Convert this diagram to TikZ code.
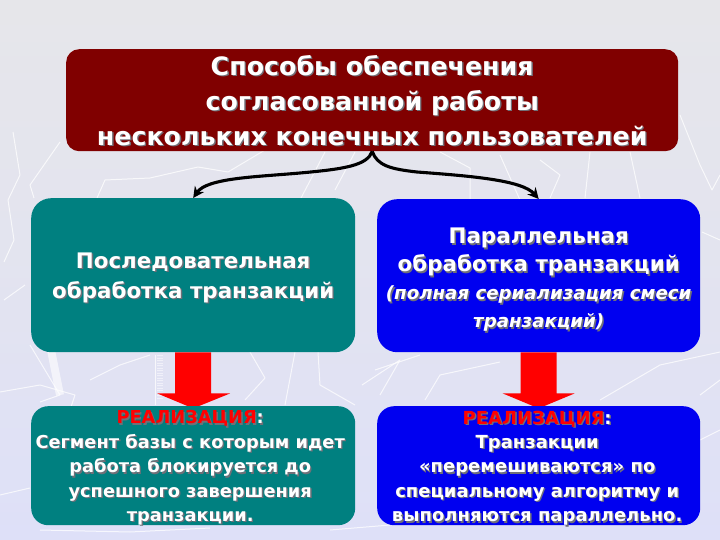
\documentclass[tikz,border=0pt]{standalone}
\usepackage{fontspec}
\setmainfont{DejaVu Sans}
\usetikzlibrary{calc,arrows.meta}
\definecolor{bgtop}{HTML}{E6E6EA}
\definecolor{bgbot}{HTML}{DEE0F8}
\definecolor{maroonbox}{HTML}{800000}
\definecolor{tealbox}{HTML}{008080}
\definecolor{bluebox}{HTML}{0000F0}
\definecolor{txtshadow}{HTML}{707078}
\newcommand\shd[2][white]{\leavevmode\rlap{\kern1.4pt\raisebox{-1.4pt}{\textcolor{txtshadow}{#2}}}\textcolor{#1}{#2}}
\newcommand\itl{\fontsize{18.2}{24}\selectfont\itshape}
\tikzset{
  x=1pt,y=-1pt,
  box/.style={rounded corners=#1,inner sep=0pt,anchor=north west},
  lbl/.style={inner sep=0pt,align=center,text=white},
  squig/.style={draw=white,line width=1pt,opacity=.75,line join=round},
  curvearrow/.style={draw=black,line width=3.1pt,-{Stealth[length=11pt,width=11pt]}},
  bigarrow/.style={fill=red,draw=none}
}
\begin{document}
\begin{tikzpicture}
\useasboundingbox (0,0) rectangle (720,540);
\shade[top color=bgtop,bottom color=bgbot,middle color=bgtop!60!bgbot] (0,0) rectangle (720,540);
% background squiggles
\draw[squig] (13,132) -- (20,175) -- (8,200) -- (14,240) -- (4,262);
\draw[squig] (60,142) -- (30,185) -- (34,198);
\draw[squig] (97,198) -- (105,180) -- (150,178) -- (198,167) -- (228,172) -- (265,150);
\draw[squig] (300,200) -- (325,152);
\draw[squig] (355,152) -- (335,190);
\draw[squig] (440,152) -- (470,168) -- (470,200);
\draw[squig] (500,155) -- (520,200);
\draw[squig] (540,160) -- (560,175) -- (550,198);
\draw[squig] (590,152) -- (585,198);
\draw[squig] (630,152) -- (640,198);
\draw[squig] (680,115) -- (700,165) -- (712,190) -- (720,175);
\draw[squig] (720,240) -- (702,232);
\draw[squig] (4,300) -- (25,285);
\draw[squig] (0,392) -- (40,385) -- (75,395) -- (60,440);
\draw[squig] (30,345) -- (60,395) -- (40,402);
\draw[squig] (90,380) -- (120,365) -- (150,355);
\draw[squig] (155,355) -- (155,405);
\draw[squig] (250,352) -- (265,378) -- (245,400);
\draw[squig] (295,352) -- (285,405);
\draw[squig] (318,352) -- (320,385) -- (355,405);
\draw[squig] (0,495) -- (30,488);
\draw[squig] (40,530) -- (130,532) -- (210,528);
\draw[squig] (375,370) -- (420,355);
\draw[squig] (362,385) -- (400,360) -- (380,395);
\draw[squig] (425,400) -- (440,375) -- (500,362);
\draw[squig] (600,400) -- (660,365) -- (720,352);
\draw[squig] (700,395) -- (720,380);
\draw[squig] (700,440) -- (720,430);
\draw[squig] (330,530) -- (390,525);
\draw[white,opacity=.6,line width=8pt] (50,345) -- (60,395);
\draw[white,opacity=.5,line width=6pt,dash pattern=on 1pt off 1.5pt] (160,355) -- (160,400);
% boxes
\node[box=13pt,fill=maroonbox,minimum width=612pt,minimum height=102pt] (top) at (66,49) {};
\node[box=20pt,fill=tealbox,minimum width=324pt,minimum height=154pt] (seq) at (31,198) {};
\node[box=20pt,fill=bluebox,minimum width=323pt,minimum height=153pt] (par) at (377,199) {};
% arrows between rows
\path[bigarrow] ($(seq.south)+(-18,0)$) -- ($(seq.south)+(18,0)$) -- ($(seq.south)+(18,41)$) -- ($(seq.south)+(37,41)$) -- ($(seq.south)+(0,56)$) -- ($(seq.south)+(-36,41)$) -- ($(seq.south)+(-18,41)$) -- cycle;
\path[bigarrow] ($(par.south)+(-18,0)$) -- ($(par.south)+(18,0)$) -- ($(par.south)+(18,41)$) -- ($(par.south)+(36,41)$) -- ($(par.south)+(0,56)$) -- ($(par.south)+(-36,41)$) -- ($(par.south)+(-18,41)$) -- cycle;
\node[box=17pt,fill=tealbox,minimum width=324pt,minimum height=119pt] (seqimp) at (31,406) {};
\node[box=17pt,fill=bluebox,minimum width=323pt,minimum height=119pt] (parimp) at (377,406) {};
% texts
\node[lbl,font={\bfseries\fontsize{25.3}{35}\selectfont}] (toptxt) at ($(top.center)+(0,1)$)
  {\shd{Способы обеспечения}\\\shd{согласованной работы}\\\shd{нескольких конечных пользователей}};
\node[lbl,font={\bfseries\fontsize{21.4}{30}\selectfont}] (seqtxt) at ($(seq.center)+(0,3)$)
  {\shd{Последовательная}\\\shd{обработка транзакций}};
\node[lbl,font={\bfseries\fontsize{21.4}{28}\selectfont}] (partxt) at ($(par.center)+(0,5)$)
  {\shd{Параллельная}\\\shd{обработка транзакций}\\
   {\itl\shd{(полная сериализация смеси}}\\{\itl\shd{транзакций)}}};
\node[lbl,font={\bfseries\fontsize{17.8}{24.4}\selectfont}] (seqimptxt) at ($(seqimp.center)+(-3,3)$)
  {\shd[red]{РЕАЛИЗАЦИЯ}\shd{:}\\\shd{Сегмент базы с которым идет}\\\shd{работа блокируется до}\\\shd{успешного завершения}\\\shd{транзакции.}};
\node[lbl,font={\bfseries\fontsize{18}{24.4}\selectfont}] (parimptxt) at ($(parimp.center)+(-1.5,3)$)
  {\shd[red]{РЕАЛИЗАЦИЯ}\shd{:}\\\shd{Транзакции}\\\shd{«перемешиваются» по}\\\shd{специальному алгоритму и}\\\shd{выполняются параллельно.}};
% curved connectors
\draw[curvearrow] (top.south) .. controls +(-5,14) and (345,169) .. (300,173) .. controls (255,177) and (207,178) .. (seq.north);
\draw[curvearrow] (top.south) .. controls +(5,14) and (390,169) .. (417,172) .. controls (470,176) and (522,180) .. (par.north);
\end{tikzpicture}
\end{document}
